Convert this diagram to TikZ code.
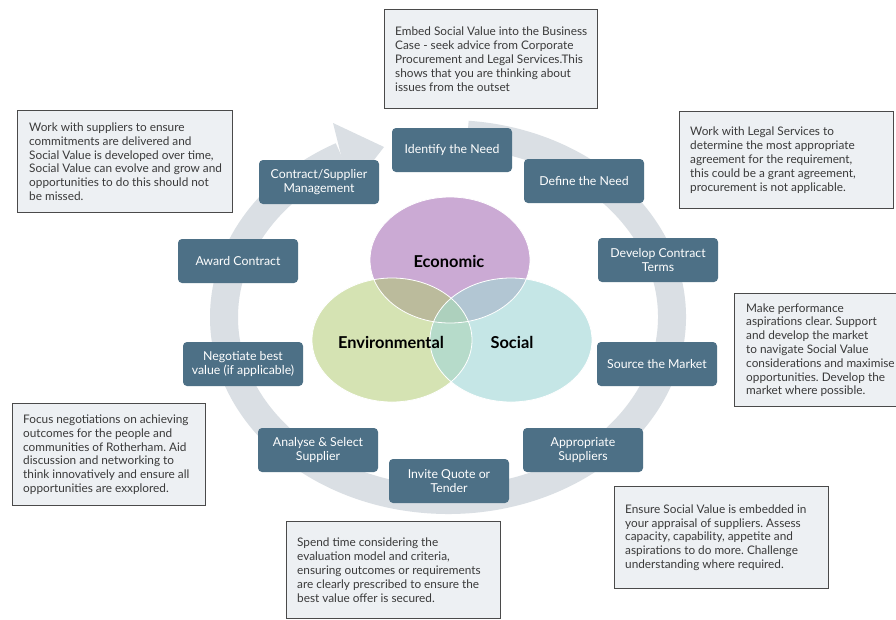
\documentclass[tikz,border=0pt]{standalone}
\usepackage{fontspec}
\setmainfont{Lato}
\frenchspacing
\definecolor{stagecol}{HTML}{4D7086}
\definecolor{notefill}{HTML}{EDF0F3}
\definecolor{notedraw}{HTML}{4A4A4A}
\definecolor{notetxt}{HTML}{3A3A3A}
\definecolor{ringcol}{HTML}{DADFE4}
\definecolor{econcol}{HTML}{CBAAD4}
\definecolor{envcol}{HTML}{D5E3B3}
\definecolor{soccol}{HTML}{C5E6E6}
\definecolor{ecenv}{HTML}{BBBB9C}
\definecolor{ecsoc}{HTML}{B2C6D3}
\definecolor{envsoc}{HTML}{B6DBCA}
\definecolor{triple}{HTML}{ADD0BD}
\begin{document}
\begin{tikzpicture}[x=1pt,y=-1pt,
  stage/.style={fill=stagecol, rounded corners=4pt, minimum width=120pt, minimum height=44pt,
    text=white, align=center, font=\fontsize{12.3}{14.5}\selectfont, inner sep=1pt},
  notebox/.style={draw=notedraw, line width=1.2pt, fill=notefill, anchor=north west, inner sep=0pt},
  notetext/.style={anchor=west, align=left, text=notetxt, font=\fontsize{11.8}{13.8}\selectfont, inner sep=0pt},
  venntext/.style={font=\bfseries\fontsize{16.4}{18}\selectfont, text=black},
]
\useasboundingbox (0,0) rectangle (896,619);
\fill[white] (0,0) rectangle (896,619);

% cycle ring
\draw[ringcol, line width=28pt] (448,317) ++(-85:224 and 183) arc[start angle=-85, end angle=241.6, x radius=224, y radius=183];
\fill[ringcol] (333,123) -- (384,147) -- (350,191) -- cycle;

% Venn diagram
\fill[econcol] (450,260) ellipse[x radius=80, y radius=63];
\fill[envcol] (392,340) ellipse[x radius=80, y radius=62];
\fill[soccol] (511,340) ellipse[x radius=81, y radius=62];
\begin{scope}
  \clip (450,260) ellipse[x radius=80, y radius=63];
  \fill[ecenv] (392,340) ellipse[x radius=80, y radius=62];
  \fill[ecsoc] (511,340) ellipse[x radius=81, y radius=62];
\end{scope}
\begin{scope}
  \clip (392,340) ellipse[x radius=80, y radius=62];
  \fill[envsoc] (511,340) ellipse[x radius=81, y radius=62];
  \clip (450,260) ellipse[x radius=80, y radius=63];
  \fill[triple] (511,340) ellipse[x radius=81, y radius=62];
\end{scope}
\draw[white, line width=0.8pt] (450,260) ellipse[x radius=80, y radius=63];
\draw[white, line width=0.8pt] (392,340) ellipse[x radius=80, y radius=62];
\draw[white, line width=0.8pt] (511,340) ellipse[x radius=81, y radius=62];
\node[venntext] (econ) at (449,261) {Economic};
\node[venntext] (env) at (391,342) {Environmental};
\node[venntext] (soc) at (512,342) {Social};

% stage boxes
\node[stage] (s1) at (452,150) {Identify the Need};
\node[stage] (s2) at (584,181) {Define the Need};
\node[stage] (s3) at (658,260) {Develop Contract\\Terms};
\node[stage] (s4) at (657,364) {Source the Market};
\node[stage] (s5) at (583,450) {Appropriate\\Suppliers};
\node[stage] (s6) at (449,481) {Invite Quote or\\Tender};
\node[stage] (s7) at (318,450) {Analyse \& Select\\Supplier};
\node[stage] (s8) at (243,364) {Negotiate best\\value (if applicable)};
\node[stage] (s9) at (238,261) {Award Contract};
\node[stage] (s10) at (319,182) {Contract/Supplier\\Management};

% note boxes
\node[notebox, minimum width=213pt, minimum height=99pt] (nA) at (384,9) {};
\node[notetext] (tA) at ([xshift=11pt]nA.west) {Embed Social Value into the Business\\Case - seek advice from Corporate\\Procurement and Legal Services.This\\shows that you are thinking about\\issues from the outset};

\node[notebox, minimum width=215pt, minimum height=102pt] (nB) at (17,110) {};
\node[notetext] (tB) at ([xshift=12pt]nB.west) {Work with suppliers to ensure\\commitments are delivered and\\Social Value is developed over time,\\Social Value can evolve and grow and\\opportunities to do this should not\\be missed.};

\node[notebox, minimum width=214pt, minimum height=97pt] (nC) at (679,111) {};
\node[notetext] (tC) at ([xshift=11pt]nC.west) {Work with Legal Services to\\determine the most appropriate\\agreement for the requirement,\\this could be a grant agreement,\\procurement is not applicable.};

\node[notebox, minimum width=200pt, minimum height=113pt] (nD) at (734,293) {};
\node[notetext] (tD) at ([xshift=12pt]nD.west) {Make performance\\aspirations clear. Support\\and develop the market\\to navigate Social Value\\considerations and maximise\\opportunities. Develop the\\market where possible.};

\node[notebox, minimum width=193pt, minimum height=102pt] (nE) at (12,403) {};
\node[notetext] (tE) at ([xshift=11pt]nE.west) {Focus negotiations on achieving\\outcomes for the people and\\communities of Rotherham. Aid\\discussion and networking to\\think innovatively and ensure all\\opportunities are exxplored.};

\node[notebox, minimum width=214pt, minimum height=97pt] (nF) at (286,521) {};
\node[notetext] (tF) at ([xshift=11pt]nF.west) {Spend time considering the\\evaluation model and criteria,\\ensuring outcomes or requirements\\are clearly prescribed to ensure the\\best value offer is secured.};

\node[notebox, minimum width=214pt, minimum height=102pt] (nG) at (614,486) {};
\node[notetext] (tG) at ([xshift=11pt]nG.west) {Ensure Social Value is embedded in\\your appraisal of suppliers. Assess\\capacity, capability, appetite and\\aspirations to do more. Challenge\\understanding where required.};
\end{tikzpicture}
\end{document}
